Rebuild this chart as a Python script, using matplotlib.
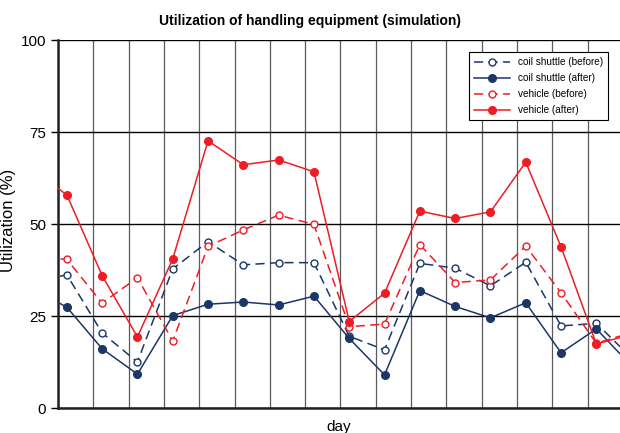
import numpy as np
import matplotlib
matplotlib.use("Agg")
import matplotlib.pyplot as plt

plt.rcParams['font.family'] = ['Liberation Sans', 'DejaVu Sans']

# day index (the first and last ones lie outside the visible window)
days = list(range(-1, 17))
coil_before = [34.2, 36.2, 20.4, 12.5, 37.8, 45.2, 38.9, 39.5, 39.5, 19.5, 15.8, 39.3, 38.0, 33.2, 39.6, 22.3, 23.0, 13.6]
coil_after = [32.6, 27.4, 16.1, 9.2, 25.1, 28.2, 28.8, 28.0, 30.4, 18.9, 9.0, 31.9, 27.6, 24.5, 28.6, 15.0, 21.5, 11.4]
vehicle_before = [41.0, 40.4, 28.5, 35.4, 18.2, 43.9, 48.4, 52.4, 49.9, 22.1, 22.8, 44.4, 34.1, 34.8, 44.0, 31.3, 17.6, 20.5]
vehicle_after = [65.0, 57.9, 36.0, 19.3, 40.5, 72.6, 66.1, 67.4, 64.2, 23.5, 31.2, 53.5, 51.5, 53.3, 66.8, 43.8, 17.4, 20.0]

navy = '#1c3668'
red = '#ee1c25'

fig = plt.figure(figsize=(6.2, 4.33), dpi=100)
ax = fig.add_axes([58 / 620, 25 / 433, 562 / 620, 368 / 433])

x = np.array(days) + 0.25
dash = (0, (6, 3.5))
ax.plot(x, coil_before, color=navy, lw=1.1, linestyle=dash, marker='o', ms=5,
        mfc='white', mec=navy, mew=1, label='coil shuttle (before)', zorder=3)
ax.plot(x, coil_after, color=navy, lw=1.1, marker='o', ms=5.5,
        label='coil shuttle (after)', zorder=3)
ax.plot(x, vehicle_before, color=red, lw=1.1, linestyle=dash, marker='o', ms=5,
        mfc='white', mec=red, mew=1, label='vehicle (before)', zorder=4)
ax.plot(x, vehicle_after, color=red, lw=1.1, marker='o', ms=5.5,
        label='vehicle (after)', zorder=4)

ax.set_xlim(0, 15.92)
ax.set_ylim(0, 100)
ax.set_yticks([0, 25, 50, 75, 100])
ax.set_xticks(range(0, 16))
ax.set_xticklabels([])
ax.tick_params(axis='x', length=0)
ax.tick_params(axis='y', length=5, width=1, labelsize=11, direction='out')

ax.xaxis.grid(True, color='#5a5a5a', lw=0.9)
ax.yaxis.grid(True, color='black', lw=1)
ax.set_axisbelow(True)

ax.spines['right'].set_visible(False)
ax.spines['top'].set_visible(False)
ax.spines['left'].set_linewidth(1.8)
ax.spines['bottom'].set_linewidth(1.8)
ax.spines['left'].set_color('#222222')
ax.spines['bottom'].set_color('#222222')

ax.set_xlabel('day', fontsize=11)
ax.xaxis.set_label_coords(0.5, -0.033)
ax.set_ylabel('Utilization (%)', fontsize=12)
ax.yaxis.set_label_coords(-0.074, 0.51)
fig.suptitle('Utilization of handling equipment (simulation)', fontsize=10,
             fontweight='bold', y=0.968)

leg = ax.legend(loc='upper right', bbox_to_anchor=(0.979, 0.967), fontsize=7.2,
                fancybox=False, edgecolor='black', framealpha=1,
                borderaxespad=0, handlelength=3.6, labelspacing=0.6,
                borderpad=0.5)
leg.get_frame().set_linewidth(0.8)

fig.savefig('out.png', dpi=100)
